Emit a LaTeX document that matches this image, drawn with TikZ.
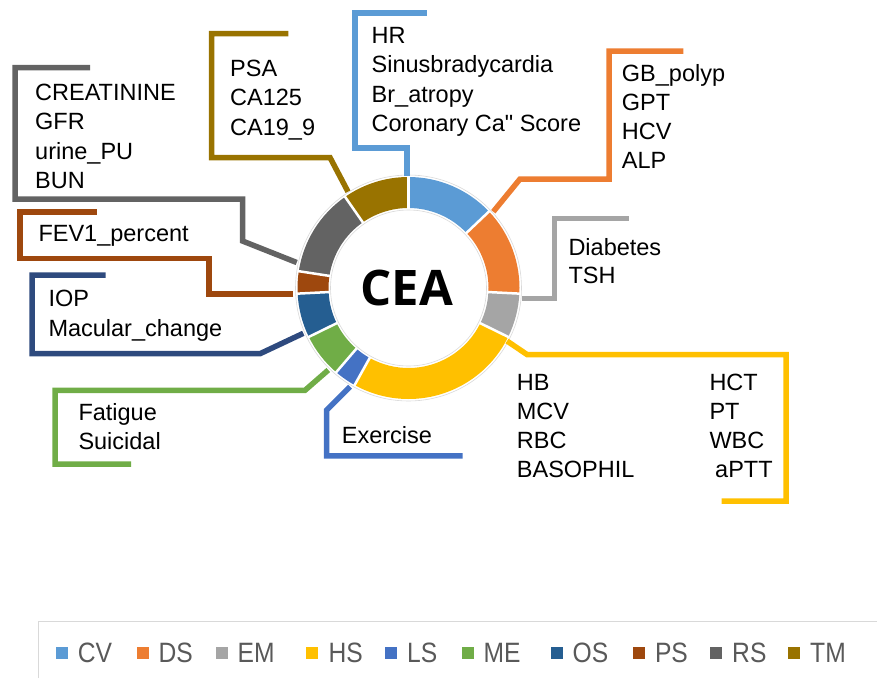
\documentclass[tikz,border=0pt]{standalone}
\usepackage{fontspec}
\setmainfont{Liberation Sans}
\newfontfamily\ceafont{Open Sans}
\newfontfamily\qfont[Ligatures=TeXOff]{Liberation Sans}
\definecolor{cCV}{HTML}{5B9BD5}
\definecolor{cDS}{HTML}{ED7D31}
\definecolor{cEM}{HTML}{A5A5A5}
\definecolor{cHS}{HTML}{FFC000}
\definecolor{cLS}{HTML}{4472C4}
\definecolor{cME}{HTML}{70AD47}
\definecolor{cOS}{HTML}{255E91}
\definecolor{cOSline}{HTML}{2E4A7E}
\definecolor{cPS}{HTML}{9E480E}
\definecolor{cRS}{HTML}{636363}
\definecolor{cTM}{HTML}{997300}
\definecolor{legtxt}{HTML}{595959}
\definecolor{legbox}{HTML}{D9D9D9}
\newcommand\ringseg[3]{\fill[#1] (#2:80pt) -- (#2:111pt) arc[start angle=#2, end angle=#3, radius=111pt] -- (#3:80pt) arc[start angle=#3, end angle=#2, radius=80pt] -- cycle;}
\begin{document}
\begin{tikzpicture}[x=1pt,y=-1pt,
  lbl/.style={anchor=base west, inner sep=0pt, font=\fontsize{23.5}{28}\selectfont, text=black},
  lead/.style={line width=5.5pt},
  legtext/.style={anchor=west, inner sep=0pt, font=\fontsize{28}{28}\selectfont, text=legtxt}]
\useasboundingbox (0,0) rectangle (877,678);

% ring
\begin{scope}[shift={(408.5,288)}]
  \ringseg{cCV}{90}{43.548}
  \ringseg{cDS}{43.548}{-2.903}
  \ringseg{cEM}{-2.903}{-26.129}
  \ringseg{cHS}{-26.129}{-119.032}
  \ringseg{cLS}{-119.032}{-130.645}
  \ringseg{cME}{-130.645}{-153.871}
  \ringseg{cOS}{-153.871}{-177.097}
  \ringseg{cPS}{-177.097}{-188.710}
  \ringseg{cRS}{-188.710}{-235.161}
  \ringseg{cTM}{-235.161}{-270}
  \foreach \a in {90,43.548,-2.903,-26.129,-119.032,-130.645,-153.871,-177.097,-188.710,-235.161}
    \draw[white, line width=2.5pt] (\a:77pt) -- (\a:114pt);
  \draw[black!15, line width=0.6pt] (0,0) circle[radius=113pt];
  \draw[black!15, line width=0.6pt] (0,0) circle[radius=78pt];
\end{scope}
\node[inner sep=0pt, font=\ceafont\bfseries\fontsize{49}{49}\selectfont] (cea) at (407,288) {CEA};

% leader lines
\draw[lead, cCV] (407,176) -- (407,148) -- (355,148) -- (355,13) -- (427.3,13);
\draw[lead, cTM] (348,191.7) -- (330,157.5) -- (211.5,157.5) -- (211.5,33.5) -- (288.3,33.5);
\draw[lead, cDS] (493.3,211.7) -- (520,179) -- (609,179) -- (609,51) -- (683.3,51);
\draw[lead, cEM] (521.7,298.3) -- (554.5,298.3) -- (554.5,218.7) -- (629.3,218.7);
\draw[lead, cHS] (507,341) -- (527,354.5) -- (786,354.5) -- (786,501) -- (721.7,501);
\draw[lead, cLS] (350,386.7) -- (326.7,410) -- (326.7,455.8) -- (462.7,455.8);
\draw[lead, cME] (328.3,370) -- (305,390.3) -- (55,390.3) -- (55,464.2) -- (131,464.2);
\draw[lead, cOSline] (303.3,333.3) -- (260,353.7) -- (32.2,353.7) -- (32.2,275) -- (105.7,275);
\draw[lead, cPS] (293.3,293.8) -- (209,293.8) -- (209,258.5) -- (20,258.5) -- (20,212.2) -- (96.7,212.2);
\draw[lead, cRS] (296.7,262.5) -- (242.5,241) -- (242.5,199) -- (15,199) -- (15,67.5) -- (90,67.5);

% labels
\foreach \t [count=\i] in {CREATININE,GFR,urine\_PU,BUN}
  \node[lbl] (rs\i) at (35,{100+(\i-1)*29.6}) {\t};
\foreach \t [count=\i] in {PSA,CA125,CA19\_9}
  \node[lbl] (tm\i) at (230,{76.7+(\i-1)*29.2}) {\t};
\foreach \t [count=\i] in {HR,Sinusbradycardia,Br\_atropy,{Coronary Ca{\qfont\symbol{34}} Score}}
  \node[lbl] (cv\i) at (371.5,{43.5+(\i-1)*29.4}) {\t};
\foreach \t [count=\i] in {GB\_polyp,GPT,HCV,ALP}
  \node[lbl] (ds\i) at (621.7,{81.7+(\i-1)*28.9}) {\t};
\foreach \t [count=\i] in {Diabetes,TSH}
  \node[lbl] (em\i) at (568.3,{255+(\i-1)*28.5}) {\t};
\foreach \t [count=\i] in {HB,MCV,RBC,BASOPHIL}
  \node[lbl] (hsa\i) at (516.7,{390+(\i-1)*29.3}) {\t};
\foreach \t [count=\i] in {HCT,PT,WBC}
  \node[lbl] (hsb\i) at (709.3,{390+(\i-1)*29.3}) {\t};
\node[lbl] (hsb4) at (715,477.9) {aPTT};
\node[lbl] (ls1) at (341.7,443.3) {Exercise};
\node[lbl] (me1) at (78.3,420) {Fatigue};
\node[lbl] (me2) at (78.3,449.5) {Suicidal};
\node[lbl] (os1) at (48.3,306.7) {IOP};
\node[lbl] (os2) at (48.3,336.3) {Macular\_change};
\node[lbl] (ps1) at (38.3,241.7) {FEV1\_percent};

% legend
\draw[legbox, line width=1.2pt] (38.3,678) -- (38.3,621.7) -- (877,621.7);
\foreach \c/\n/\x in {cCV/CV/61.7, cDS/DS/142.5, cEM/EM/221.5, cHS/HS/312.3, cLS/LS/391, cME/ME/467.5, cOS/OS/556.5, cPS/PS/638.8, cRS/RS/716, cTM/TM/794} {
  \fill[\c] (\x-6,646.5) rectangle (\x+6,658.5);
  \node[legtext] (leg\n) at (\x+16,652.5) {\scalebox{0.88}[1]{\n}};
}
\end{tikzpicture}
\end{document}
